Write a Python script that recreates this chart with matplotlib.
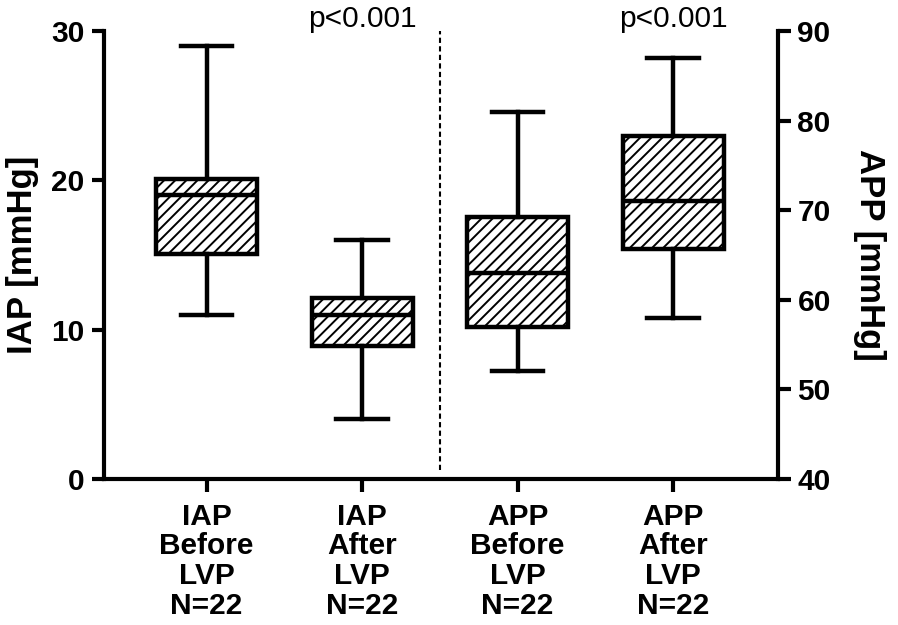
import matplotlib
matplotlib.use("Agg")
import matplotlib.pyplot as plt

plt.rcParams['font.family'] = ['Liberation Sans', 'DejaVu Sans']
plt.rcParams['hatch.linewidth'] = 1.4

# five-number summaries
labels = ["IAP\nBefore\nLVP\nN=22", "IAP\nAfter\nLVP\nN=22",
          "APP\nBefore\nLVP\nN=22", "APP\nAfter\nLVP\nN=22"]
iap_whislo = [11.0, 4.0]
iap_q1 = [15.1, 8.9]
iap_med = [19.0, 11.0]
iap_q3 = [20.1, 12.1]
iap_whishi = [29.0, 16.0]

app_whislo = [52.0, 58.0]
app_q1 = [57.0, 65.7]
app_med = [63.0, 71.0]
app_q3 = [69.2, 78.3]
app_whishi = [81.0, 87.0]

p_text = "p<0.001"


def stats(lo, q1, med, q3, hi):
    return [dict(whislo=a, q1=b, med=c, q3=d, whishi=e, fliers=[])
            for a, b, c, d, e in zip(lo, q1, med, q3, hi)]


fig = plt.figure(figsize=(8.98, 6.25), dpi=100)
ax = fig.add_axes([0.1158, 0.2336, 0.7506, 0.7168])
ax2 = ax.twinx()

lw = 3.2
style = dict(patch_artist=True, showfliers=False, widths=0.65,
             boxprops=dict(facecolor='white', edgecolor='black', linewidth=lw, hatch='///'),
             medianprops=dict(color='black', linewidth=lw),
             whiskerprops=dict(color='black', linewidth=lw),
             capprops=dict(color='black', linewidth=lw),
             capwidths=0.33)

ax.bxp(stats(iap_whislo, iap_q1, iap_med, iap_q3, iap_whishi), positions=[1, 2], **style)
ax2.bxp(stats(app_whislo, app_q1, app_med, app_q3, app_whishi), positions=[3, 4], **style)

ax.set_xlim(0.34, 4.675)
ax.set_ylim(0, 30)
ax2.set_ylim(40, 90)
ax.set_yticks([0, 10, 20, 30])
ax2.set_yticks([40, 50, 60, 70, 80, 90])

ax.set_xticks([1, 2, 3, 4])
ax.set_xticklabels(labels, fontsize=19.5, fontweight='bold', linespacing=1.08)
ax2.set_xticks([1, 2, 3, 4])

for a in (ax, ax2):
    a.spines['top'].set_visible(False)
    for s in a.spines.values():
        s.set_linewidth(3)
    a.tick_params(width=3, length=9, labelsize=21.5, pad=5)
    for t in a.get_yticklabels():
        t.set_fontweight('bold')
ax.tick_params(axis='x', pad=8)
ax.spines['right'].set_visible(False)
ax2.spines['left'].set_visible(False)
ax2.spines['bottom'].set_visible(False)

ax.set_ylabel("IAP [mmHg]", fontsize=25, fontweight='bold', labelpad=9)
ax2.set_ylabel("APP [mmHg]", fontsize=25, fontweight='bold', rotation=270, labelpad=40)

ax.axvline(2.5, ymin=0.02, ymax=1, color='black', linewidth=1.5, linestyle=(0, (2.5, 1.6)))

ax.text(2, 30.27, p_text, ha='center', va='baseline', fontsize=21.5)
ax2.text(4, 90 + 0.27 * 50 / 30, p_text, ha='center', va='baseline', fontsize=21.5)

fig.savefig("out.png", dpi=100)
